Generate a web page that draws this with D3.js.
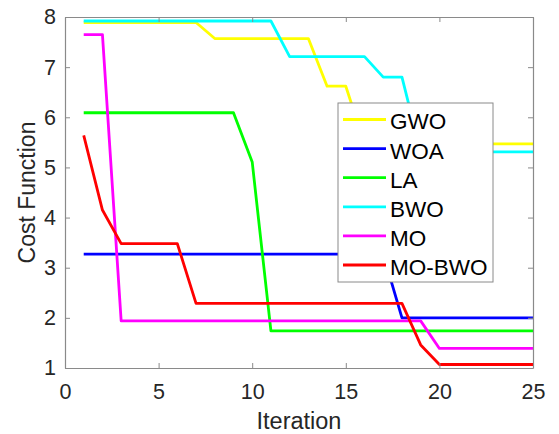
<!DOCTYPE html>
<html>
<head>
<meta charset="utf-8">
<script src="https://cdn.jsdelivr.net/npm/d3@7"></script>
<style>
  body { margin: 0; background: #fff; }
  svg { display: block; font-family: "Liberation Sans", Arial, sans-serif; }
</style>
</head>
<body>
<svg id="chart"></svg>
<script>
// iterations 1..25
const iterations = d3.range(1, 26);

const gwo   = [7.89, 7.89, 7.89, 7.89, 7.89, 7.89, 7.89, 7.57, 7.57, 7.57, 7.57, 7.57, 7.57, 6.62, 6.62, 5.47, 5.47, 5.47, 5.47, 5.47, 5.47, 5.47, 5.47, 5.47, 5.47];
const woa   = [3.27, 3.27, 3.27, 3.27, 3.27, 3.27, 3.27, 3.27, 3.27, 3.27, 3.27, 3.27, 3.27, 3.27, 3.27, 3.27, 3.27, 2.0, 2.0, 2.0, 2.0, 2.0, 2.0, 2.0, 2.0];
const la    = [6.09, 6.09, 6.09, 6.09, 6.09, 6.09, 6.09, 6.09, 6.09, 5.11, 1.74, 1.74, 1.74, 1.74, 1.74, 1.74, 1.74, 1.74, 1.74, 1.74, 1.74, 1.74, 1.74, 1.74, 1.74];
const bwo   = [7.92, 7.92, 7.92, 7.92, 7.92, 7.92, 7.92, 7.92, 7.92, 7.92, 7.92, 7.21, 7.21, 7.21, 7.21, 7.21, 6.80, 6.80, 5.31, 5.31, 5.31, 5.31, 5.31, 5.31, 5.31];
const mo    = [7.65, 7.65, 1.94, 1.94, 1.94, 1.94, 1.94, 1.94, 1.94, 1.94, 1.94, 1.94, 1.94, 1.94, 1.94, 1.94, 1.94, 1.94, 1.94, 1.39, 1.39, 1.39, 1.39, 1.39, 1.39];
const mobwo = [5.64, 4.15, 3.48, 3.48, 3.48, 3.48, 2.29, 2.29, 2.29, 2.29, 2.29, 2.29, 2.29, 2.29, 2.29, 2.29, 2.29, 2.29, 1.46, 1.07, 1.07, 1.07, 1.07, 1.07, 1.07];

const names  = ["GWO", "WOA", "LA", "BWO", "MO", "MO-BWO"];
const colors = ["#ffff00", "#0000ff", "#00ff00", "#00ffff", "#ff00ff", "#ff0000"];
const seriesValues = [gwo, woa, la, bwo, mo, mobwo];

const xTicks = [0, 5, 10, 15, 20, 25];
const yTicks = [1, 2, 3, 4, 5, 6, 7, 8];

const W = 559, H = 434;
const margin = { top: 17, right: 26, bottom: 66, left: 65 };
const width = W - margin.left - margin.right;
const height = H - margin.top - margin.bottom;

const svg = d3.select("#chart").attr("width", W).attr("height", H);
const g = svg.append("g").attr("transform", `translate(${margin.left},${margin.top})`);

const x = d3.scaleLinear().domain([0, 25]).range([0, width]);
const y = d3.scaleLinear().domain([1, 8]).range([height, 0]);

const axisColor = "#8a8a8a";
const textColor = "#262626";

// lines
const series = names.map((n, i) => ({
  name: n,
  color: colors[i],
  values: iterations.map((it, j) => ({ it: it, v: seriesValues[i][j] }))
}));

const line = d3.line().x(d => x(d.it)).y(d => y(d.v));

g.selectAll(".series")
  .data(series)
  .enter()
  .append("path")
  .attr("fill", "none")
  .attr("stroke", d => d.color)
  .attr("stroke-width", 2.8)
  .attr("stroke-linejoin", "round")
  .attr("d", d => line(d.values));

// axes (box, inward ticks)
const tickLen = 5;
const xAxis = d3.axisBottom(x).tickValues(xTicks).tickSizeInner(-tickLen).tickSizeOuter(0).tickPadding(16);
const yAxis = d3.axisLeft(y).tickValues(yTicks).tickFormat(d3.format("d")).tickSizeInner(-tickLen).tickSizeOuter(0).tickPadding(9);
const xTop = d3.axisTop(x).tickValues(xTicks).tickSizeInner(-tickLen).tickSizeOuter(0).tickFormat("");
const yRight = d3.axisRight(y).tickValues(yTicks).tickSizeInner(-tickLen).tickSizeOuter(0).tickFormat("");

g.append("g").attr("transform", `translate(0,${height})`).call(xAxis);
g.append("g").call(yAxis);
g.append("g").call(xTop);
g.append("g").attr("transform", `translate(${width},0)`).call(yRight);

g.selectAll(".domain").attr("stroke", axisColor).attr("stroke-width", 1.2);
g.selectAll(".tick line").attr("stroke", axisColor).attr("stroke-width", 1);
g.selectAll(".tick text")
  .attr("font-size", 21.5)
  .attr("font-family", "Liberation Sans, Arial, sans-serif")
  .attr("fill", textColor);

// axis labels
svg.append("text")
  .attr("x", margin.left + width / 2)
  .attr("y", 429)
  .attr("text-anchor", "middle")
  .attr("font-size", 23.5)
  .attr("fill", textColor)
  .text("Iteration");

svg.append("text")
  .attr("transform", `translate(35,${margin.top + height / 2}) rotate(-90)`)
  .attr("text-anchor", "middle")
  .attr("font-size", 23)
  .attr("fill", textColor)
  .text("Cost Function");

// legend
const legend = svg.append("g").attr("transform", "translate(338,103)");
legend.append("rect")
  .attr("width", 155)
  .attr("height", 179)
  .attr("fill", "#fff")
  .attr("stroke", axisColor)
  .attr("stroke-width", 1);

const rowY = d3.scaleLinear().domain([0, 5]).range([16.5, 162]);
const items = legend.selectAll(".item")
  .data(series)
  .enter()
  .append("g")
  .attr("transform", (d, i) => `translate(0,${rowY(i)})`);

items.append("line")
  .attr("x1", 5).attr("x2", 48)
  .attr("stroke", d => d.color)
  .attr("stroke-width", 2.8);

items.append("text")
  .attr("x", 52)
  .attr("dy", "0.44em")
  .attr("font-size", 22.5)
  .attr("fill", "#000")
  .text(d => d.name);
</script>
</body>
</html>
